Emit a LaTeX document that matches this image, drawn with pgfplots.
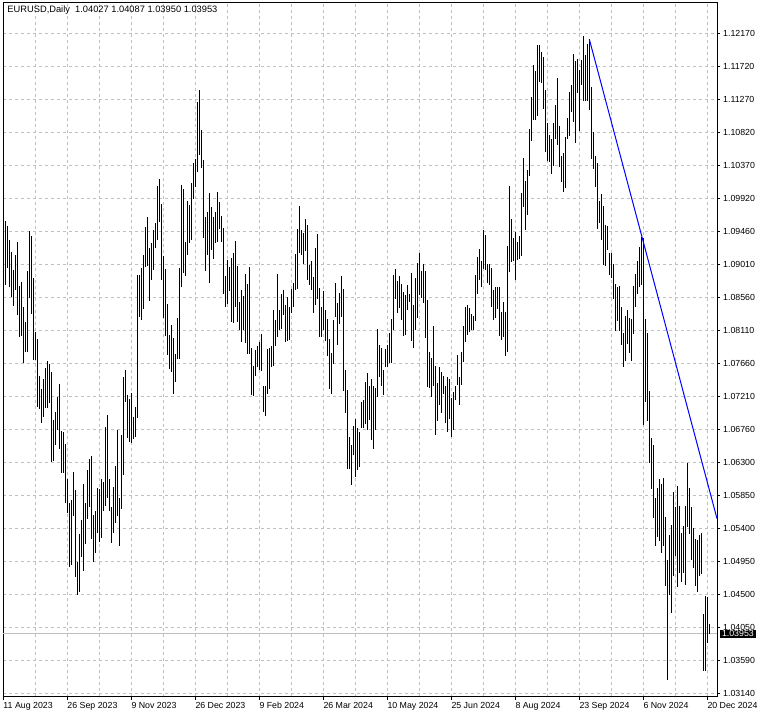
\documentclass[border=0pt]{standalone}
\usepackage{fontspec}
\setmainfont{Liberation Sans}
\usepackage{pgfplots}
\usepackage{pgfplotstable}
\pgfplotsset{compat=1.18}
\definecolor{gridgray}{RGB}{192,192,192}
\definecolor{bidgray}{RGB}{192,192,192}
\newcommand\mtfont{\fontsize{8.8bp}{10bp}\selectfont}

% EURUSD daily bars, bar index from 11 Aug 2023, high and low
\pgfplotstableread{
i h l
0 1.1005 1.0941
1 1.0960 1.0873
2 1.0953 1.0896
3 1.0934 1.0870
4 1.0918 1.0856
5 1.0893 1.0844
6 1.0914 1.0866
7 1.0931 1.0832
8 1.0871 1.0802
9 1.0877 1.0803
10 1.0842 1.0766
11 1.0822 1.0781
12 1.0892 1.0781
13 1.0946 1.0855
14 1.0940 1.0833
15 1.0883 1.0770
16 1.0808 1.0770
17 1.0799 1.0706
18 1.0748 1.0703
19 1.0731 1.0684
20 1.0744 1.0692
21 1.0759 1.0705
22 1.0769 1.0705
23 1.0764 1.0711
24 1.0753 1.0631
25 1.0688 1.0632
26 1.0699 1.0654
27 1.0719 1.0674
28 1.0737 1.0649
29 1.0673 1.0616
30 1.0672 1.0615
31 1.0655 1.0575
32 1.0608 1.0561
33 1.0575 1.0487
34 1.0579 1.0490
35 1.0617 1.0557
36 1.0592 1.0473
37 1.0494 1.0449
38 1.0532 1.0452
39 1.0551 1.0500
40 1.0600 1.0482
41 1.0575 1.0519
42 1.0620 1.0553
43 1.0634 1.0569
44 1.0639 1.0525
45 1.0558 1.0494
46 1.0563 1.0506
47 1.0595 1.0533
48 1.0593 1.0521
49 1.0607 1.0527
50 1.0603 1.0564
51 1.0678 1.0570
52 1.0695 1.0582
53 1.0607 1.0563
54 1.0569 1.0520
55 1.0596 1.0534
56 1.0625 1.0547
57 1.0674 1.0557
58 1.0581 1.0516
59 1.0668 1.0566
60 1.0747 1.0613
61 1.0756 1.0713
62 1.0722 1.0664
63 1.0716 1.0658
64 1.0725 1.0656
65 1.0692 1.0662
66 1.0706 1.0665
67 1.0887 1.0691
68 1.0886 1.0829
69 1.0896 1.0825
70 1.0914 1.0840
71 1.0952 1.0897
72 1.0966 1.0899
73 1.0923 1.0851
74 1.0930 1.0880
75 1.0948 1.0893
76 1.0958 1.0924
77 1.1008 1.0934
78 1.1018 1.0959
79 1.0983 1.0879
80 1.0913 1.0828
81 1.0894 1.0803
82 1.0846 1.0777
83 1.0804 1.0758
84 1.0818 1.0754
85 1.0800 1.0723
86 1.0778 1.0740
87 1.0827 1.0772
88 1.0896 1.0772
89 1.1009 1.0870
90 1.1004 1.0889
91 1.0931 1.0885
92 1.0988 1.0914
93 1.0982 1.0930
94 1.1012 1.0934
95 1.1039 1.0990
96 1.1045 1.1007
97 1.1123 1.1028
98 1.1139 1.1050
99 1.1085 1.1033
100 1.1044 1.0937
101 1.0966 1.0892
102 1.0972 1.0914
103 1.0998 1.0876
104 1.0979 1.0921
105 1.0966 1.0908
106 1.0972 1.0930
107 1.1000 1.0932
108 1.0986 1.0950
109 1.0967 1.0932
110 1.0950 1.0861
111 1.0885 1.0843
112 1.0907 1.0846
113 1.0897 1.0864
114 1.0910 1.0822
115 1.0916 1.0821
116 1.0933 1.0843
117 1.0899 1.0822
118 1.0849 1.0811
119 1.0866 1.0795
120 1.0858 1.0811
121 1.0888 1.0794
122 1.0874 1.0779
123 1.0897 1.0779
124 1.0786 1.0722
125 1.0762 1.0721
126 1.0784 1.0748
127 1.0789 1.0761
128 1.0794 1.0756
129 1.0806 1.0755
130 1.0734 1.0699
131 1.0735 1.0694
132 1.0785 1.0723
133 1.0787 1.0731
134 1.0789 1.0761
135 1.0839 1.0762
136 1.0825 1.0789
137 1.0888 1.0802
138 1.0839 1.0811
139 1.0860 1.0812
140 1.0866 1.0832
141 1.0845 1.0795
142 1.0856 1.0796
143 1.0843 1.0798
144 1.0867 1.0835
145 1.0875 1.0843
146 1.0915 1.0866
147 1.0949 1.0867
148 1.0981 1.0917
149 1.0948 1.0914
150 1.0944 1.0902
151 1.0963 1.0919
152 1.0955 1.0879
153 1.0900 1.0872
154 1.0906 1.0866
155 1.0884 1.0834
156 1.0923 1.0845
157 1.0942 1.0854
158 1.0868 1.0801
159 1.0843 1.0801
160 1.0864 1.0811
161 1.0839 1.0796
162 1.0826 1.0775
163 1.0799 1.0730
164 1.0779 1.0724
165 1.0825 1.0765
166 1.0876 1.0829
167 1.0848 1.0790
168 1.0862 1.0820
169 1.0885 1.0829
170 1.0867 1.0728
171 1.0756 1.0698
172 1.0729 1.0621
173 1.0665 1.0621
174 1.0654 1.0599
175 1.0680 1.0640
176 1.0690 1.0610
177 1.0677 1.0620
178 1.0671 1.0623
179 1.0712 1.0677
180 1.0715 1.0677
181 1.0740 1.0683
182 1.0752 1.0674
183 1.0734 1.0688
184 1.0744 1.0661
185 1.0734 1.0648
186 1.0732 1.0674
187 1.0812 1.0720
188 1.0791 1.0747
189 1.0787 1.0734
190 1.0757 1.0722
191 1.0785 1.0760
192 1.0791 1.0760
193 1.0807 1.0766
194 1.0826 1.0766
195 1.0886 1.0811
196 1.0894 1.0854
197 1.0878 1.0835
198 1.0885 1.0841
199 1.0874 1.0825
200 1.0863 1.0803
201 1.0859 1.0804
202 1.0873 1.0839
203 1.0860 1.0850
204 1.0889 1.0796
205 1.0845 1.0787
206 1.0882 1.0811
207 1.0903 1.0827
208 1.0917 1.0859
209 1.0892 1.0855
210 1.0901 1.0848
211 1.0892 1.0800
212 1.0852 1.0733
213 1.0781 1.0732
214 1.0773 1.0719
215 1.0817 1.0734
216 1.0762 1.0667
217 1.0738 1.0686
218 1.0761 1.0709
219 1.0754 1.0698
220 1.0748 1.0723
221 1.0734 1.0684
222 1.0747 1.0671
223 1.0744 1.0689
224 1.0718 1.0665
225 1.0726 1.0675
226 1.0734 1.0715
227 1.0777 1.0736
228 1.0747 1.0709
229 1.0781 1.0736
230 1.0817 1.0768
231 1.0842 1.0795
232 1.0845 1.0804
233 1.0841 1.0809
234 1.0833 1.0811
235 1.0830 1.0811
236 1.0887 1.0824
237 1.0911 1.0861
238 1.0922 1.0880
239 1.0906 1.0870
240 1.0948 1.0894
241 1.0941 1.0893
242 1.0902 1.0875
243 1.0902 1.0872
244 1.0896 1.0843
245 1.0866 1.0825
246 1.0870 1.0827
247 1.0870 1.0840
248 1.0870 1.0803
249 1.0836 1.0798
250 1.0849 1.0801
251 1.0836 1.0776
252 1.0926 1.0781
253 1.1008 1.0891
254 1.0963 1.0904
255 1.0937 1.0906
256 1.0945 1.0880
257 1.0932 1.0907
258 1.0940 1.0909
259 1.0999 1.0913
260 1.1047 1.0980
261 1.1015 1.0948
262 1.1030 1.0969
263 1.1086 1.1022
264 1.1130 1.1070
265 1.1174 1.1098
266 1.1165 1.1098
267 1.1201 1.1104
268 1.1201 1.1150
269 1.1191 1.1149
270 1.1184 1.1114
271 1.1139 1.1055
272 1.1095 1.1043
273 1.1078 1.1041
274 1.1073 1.1025
275 1.1095 1.1035
276 1.1119 1.1073
277 1.1156 1.1064
278 1.1090 1.1034
279 1.1049 1.1014
280 1.1054 1.1000
281 1.1075 1.1005
282 1.1101 1.1073
283 1.1137 1.1076
284 1.1146 1.1110
285 1.1189 1.1096
286 1.1179 1.1067
287 1.1182 1.1135
288 1.1167 1.1083
289 1.1180 1.1146
290 1.1213 1.1124
291 1.1187 1.1124
292 1.1202 1.1124
293 1.1209 1.1112
294 1.1143 1.1045
295 1.1082 1.1032
296 1.1049 1.1007
297 1.1040 1.0950
298 1.0987 1.0958
299 1.0997 1.0934
300 1.0981 1.0900
301 1.0955 1.0899
302 1.0953 1.0921
303 1.0917 1.0886
304 1.0916 1.0882
305 1.0901 1.0853
306 1.0874 1.0810
307 1.0870 1.0824
308 1.0871 1.0810
309 1.0842 1.0791
310 1.0807 1.0760
311 1.0830 1.0769
312 1.0839 1.0792
313 1.0827 1.0780
314 1.0826 1.0768
315 1.0871 1.0806
316 1.0888 1.0843
317 1.0906 1.0861
318 1.0925 1.0870
319 1.0939 1.0873
320 1.0937 1.0681
321 1.0826 1.0712
322 1.0807 1.0687
323 1.0728 1.0629
324 1.0663 1.0594
325 1.0654 1.0554
326 1.0582 1.0516
327 1.0595 1.0528
328 1.0607 1.0522
329 1.0600 1.0506
330 1.0609 1.0516
331 1.0555 1.0461
332 1.0497 1.0333
333 1.0531 1.0448
334 1.0544 1.0424
335 1.0589 1.0474
336 1.0569 1.0502
337 1.0598 1.0460
338 1.0570 1.0478
339 1.0534 1.0466
340 1.0543 1.0479
341 1.0570 1.0462
342 1.0629 1.0541
343 1.0595 1.0532
344 1.0569 1.0497
345 1.0540 1.0486
346 1.0525 1.0461
347 1.0524 1.0452
348 1.0531 1.0474
349 1.0534 1.0477
350 1.0423 1.0345
351 1.0447 1.0344
352 1.0446 1.0383
353 1.0409 1.0395
}\bars

\begin{document}
\begin{tikzpicture}
\fill[white] (0bp,0bp) rectangle (763bp,717bp);
\path[use as bounding box] (0bp,0bp) rectangle (763bp,717bp);
\begin{axis}[
    at={(3bp,20bp)}, anchor=south west,
    scale only axis, width=714bp, height=694bp,
    xmin=-0.15, xmax=356.85,
    ymin=1.030896, ymax=1.12585,
    clip=false,
    axis line style={black, line width=1bp},
    tick align=outside,
    xtick pos=left, ytick pos=right, yticklabel pos=right,
    major tick length=3bp, minor tick length=0pt,
    tick style={black, line width=1bp},
    xtick={0,32,...,352},
    minor xtick={16,48,...,336},
    xticklabels={11 Aug 2023, 26 Sep 2023, 9 Nov 2023, 26 Dec 2023, 9 Feb 2024, 26 Mar 2024, 10 May 2024, 25 Jun 2024, 8 Aug 2024, 23 Sep 2024, 6 Nov 2024, 20 Dec 2024},
    ytick={1.03140,1.035915,1.04043,1.044945,1.04946,1.053975,1.05849,1.063005,1.06752,1.072035,1.07655,1.081065,1.08558,1.090095,1.09461,1.099125,1.10364,1.108155,1.11267,1.117185,1.12170},
    yticklabels={1.03140,1.03590,1.04050,1.04500,1.04950,1.05400,1.05850,1.06300,1.06760,1.07210,1.07660,1.08110,1.08560,1.09010,1.09460,1.09920,1.10370,1.10820,1.11270,1.11720,1.12170},
    grid=both,
    major grid style={gridgray, dash pattern=on 3bp off 3bp, line width=1bp},
    minor grid style={gridgray, dash pattern=on 3bp off 3bp, line width=1bp},
    ticklabel style={font=\mtfont, inner sep=0pt},
    xticklabel style={anchor=north west, yshift=-2bp},
    yticklabel style={anchor=west, xshift=3bp},
]
% bid line
\addplot[bidgray, line width=1bp] coordinates {(-0.15,1.03953) (356.85,1.03953)};
% bars (high-low)
\addplot[draw=none, mark=none,
    error bars/.cd, y dir=both, y explicit, error mark=none,
    error bar style={draw=black, solid, line width=1bp}]
    table[x=i, y expr={(\thisrow{h}+\thisrow{l})/2}, y error expr={(\thisrow{h}-\thisrow{l})/2}] {\bars};
% trend line
\addplot[blue, line width=1bp] coordinates {(293,1.1209) (356.85,1.0553)};
\node[fill=black, text=white, font=\mtfont, anchor=west, inner xsep=2.5bp, inner ysep=0.5bp]
    at (axis cs:356.85,1.03953) [xshift=2.3bp] {1.03953};
\end{axis}
\node[anchor=north west, inner sep=0pt, font=\fontsize{9.3bp}{11bp}\selectfont] at (7.3bp,711bp)
    {EURUSD,Daily\ \ 1.04027 1.04087 1.03950 1.03953};
\end{tikzpicture}
\end{document}
